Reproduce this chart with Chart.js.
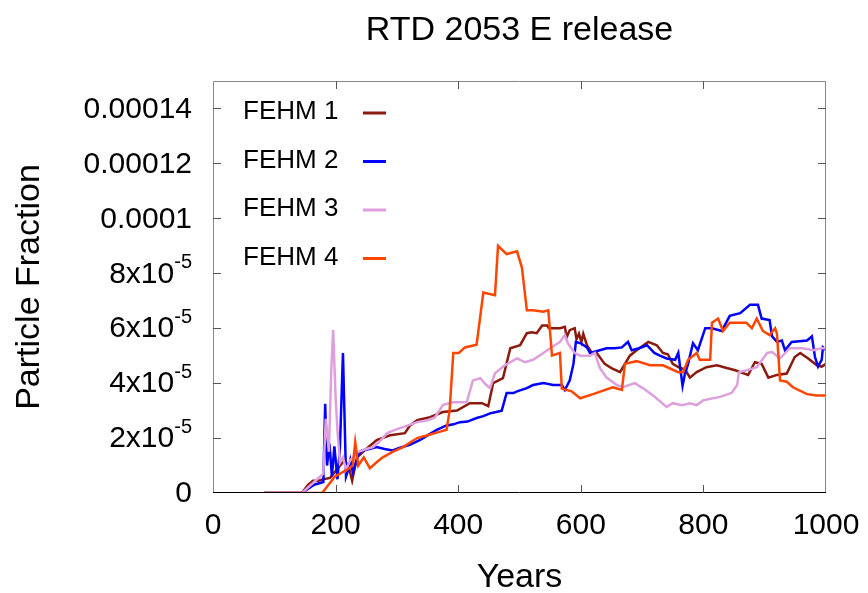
<!DOCTYPE html>
<html>
<head>
<meta charset="utf-8">
<script src="https://cdn.jsdelivr.net/npm/chart.js@4.4.0/dist/chart.umd.min.js"></script>
<style>
  html, body { margin: 0; padding: 0; background: #fff; }
  canvas { display: block; }
</style>
</head>
<body>
<canvas id="rtd" width="868" height="593"></canvas>
<script>
const TITLE = "RTD 2053 E release";
const X_TITLE = "Years";
const Y_TITLE = "Particle Fraction";

const seriesNames = ["FEHM 1", "FEHM 2", "FEHM 3", "FEHM 4"];
const seriesColors = ["#8b1a0e", "#0000ff", "#dda0dd", "#ff4500"];

// tick labels
const xTicks = [0, 200, 400, 600, 800, 1000];
const yTicks = [0, 2e-5, 4e-5, 6e-5, 8e-5, 1e-4, 1.2e-4, 1.4e-4];
const yTickBase = ["0", "2x10", "4x10", "6x10", "8x10", "0.0001", "0.00012", "0.00014"];
const yTickSup = ["", "-5", "-5", "-5", "-5", "", "", ""];

// FEHM 1
const years1 = [83,145,155,163,172,180,191,200,215,222,227,235,250,267,289,313,321,333,354,375,398,419,439,449,457,473,479,485,501,512,520,528,537,545,548,566,574,577,582,590,593,597,601,604,610,618,626,639,650,664,672,680,691,710,724,734,742,750,762,770,778,789,805,822,838,852,860,873,884,895,906,920,936,949,958,971,985,993,1000];
const vals1 = [0,0,0.3e-5,0.45e-5,0.45e-5,0.5e-5,0.55e-5,0.8e-5,1.2e-5,0.9e-5,0.45e-5,1.3e-5,1.6e-5,1.93e-5,2.1e-5,2.18e-5,2.45e-5,2.65e-5,2.76e-5,2.95e-5,3.0e-5,3.27e-5,3.27e-5,3.16e-5,4.0e-5,4.18e-5,4.73e-5,5.27e-5,5.38e-5,5.82e-5,5.85e-5,5.82e-5,6.1e-5,6.1e-5,6.0e-5,6.0e-5,6.05e-5,5.67e-5,5.93e-5,6.0e-5,5.6e-5,5.8e-5,5.5e-5,5.8e-5,5.38e-5,5.1e-5,5.1e-5,4.7e-5,4.55e-5,4.4e-5,4.7e-5,5.0e-5,5.2e-5,5.5e-5,5.38e-5,5.1e-5,5.05e-5,4.7e-5,4.55e-5,4.5e-5,4.2e-5,4.4e-5,4.58e-5,4.65e-5,4.55e-5,4.47e-5,4.4e-5,4.3e-5,4.76e-5,4.7e-5,4.2e-5,4.3e-5,4.35e-5,4.95e-5,5.1e-5,4.9e-5,4.65e-5,4.6e-5,4.7e-5];

// FEHM 2
const years2 = [83,145,165,180,183,186,190,194,198,203,207,212,217,220,224,228,237,243,255,267,280,293,305,321,338,350,365,380,392,403,415,430,441,452,462,471,479,490,496,512,522,539,555,566,569,574,582,588,592,600,610,615,631,642,655,667,677,683,695,708,720,729,740,754,759,766,770,775,783,791,803,814,830,843,860,876,889,895,908,912,920,928,933,944,969,977,982,987,993,995,1000];
const vals2 = [0,0,0.3e-5,0.4e-5,3.25e-5,1.0e-5,1.8e-5,0.6e-5,1.7e-5,0.5e-5,1.6e-5,5.1e-5,0.6e-5,0.8e-5,1.2e-5,0.76e-5,1.38e-5,1.55e-5,1.6e-5,1.67e-5,1.6e-5,1.55e-5,1.65e-5,1.75e-5,1.93e-5,2.1e-5,2.3e-5,2.45e-5,2.5e-5,2.58e-5,2.6e-5,2.73e-5,2.8e-5,2.9e-5,2.95e-5,3.0e-5,3.64e-5,3.64e-5,3.7e-5,3.82e-5,3.93e-5,4.0e-5,3.93e-5,3.93e-5,3.93e-5,3.75e-5,4.1e-5,4.7e-5,5.5e-5,5.45e-5,5.3e-5,5.1e-5,5.2e-5,5.27e-5,5.27e-5,5.3e-5,5.5e-5,5.2e-5,5.27e-5,5.38e-5,5.1e-5,5.0e-5,4.9e-5,4.85e-5,5.1e-5,3.9e-5,4.35e-5,4.7e-5,5.45e-5,5.2e-5,6.0e-5,6.0e-5,5.9e-5,6.45e-5,6.55e-5,6.85e-5,6.85e-5,6.35e-5,6.3e-5,5.7e-5,5.5e-5,5.55e-5,5.2e-5,5.5e-5,5.55e-5,5.7e-5,4.95e-5,4.6e-5,4.85e-5,5.3e-5,5.2e-5];

// FEHM 3
const years3 = [83,145,165,180,184,189,193,196,200,203,207,212,217,224,237,250,261,273,284,297,310,333,350,362,375,390,403,414,424,436,445,452,460,476,485,496,509,522,539,550,566,574,579,590,599,615,623,631,642,659,669,688,701,718,740,750,765,778,789,800,827,846,855,858,871,887,904,912,925,941,962,979,993,1000];
const vals3 = [0,0,0.4e-5,0.7e-5,2.7e-5,1.5e-5,4.5e-5,5.93e-5,3.5e-5,2.3e-5,1.1e-5,1.3e-5,0.85e-5,1.2e-5,1.5e-5,1.6e-5,1.67e-5,1.9e-5,2.18e-5,2.3e-5,2.4e-5,2.58e-5,2.65e-5,2.75e-5,3.2e-5,3.3e-5,3.3e-5,3.3e-5,4.1e-5,4.18e-5,3.95e-5,3.82e-5,4.36e-5,4.65e-5,4.76e-5,4.9e-5,4.76e-5,4.85e-5,5.1e-5,5.27e-5,5.5e-5,5.75e-5,5.45e-5,5.1e-5,5.0e-5,5.0e-5,5.1e-5,4.55e-5,4.2e-5,3.93e-5,3.85e-5,4.0e-5,3.82e-5,3.55e-5,3.13e-5,3.27e-5,3.2e-5,3.27e-5,3.2e-5,3.38e-5,3.5e-5,3.64e-5,3.93e-5,4.4e-5,4.47e-5,4.58e-5,5.1e-5,5.13e-5,4.9e-5,5.27e-5,5.27e-5,5.2e-5,5.27e-5,5.27e-5];

// FEHM 4
const years4 = [83,178,199,218,228,232,237,246,256,266,277,293,310,333,350,365,381,386,392,401,411,430,441,460,465,479,496,504,512,522,539,547,553,566,569,585,599,620,652,667,672,691,713,734,759,767,775,789,794,811,814,824,832,843,870,879,887,897,908,917,920,925,936,946,969,985,1000];
const vals4 = [0,0,0.6e-5,0.84e-5,1.0e-5,1.85e-5,1.0e-5,1.3e-5,0.9e-5,1.1e-5,1.3e-5,1.5e-5,1.67e-5,2.0e-5,2.1e-5,2.2e-5,2.3e-5,3.0e-5,5.1e-5,5.1e-5,5.3e-5,5.4e-5,7.3e-5,7.2e-5,9.0e-5,8.7e-5,8.8e-5,8.2e-5,6.65e-5,6.65e-5,6.6e-5,6.65e-5,5.0e-5,5.1e-5,3.8e-5,3.7e-5,3.45e-5,3.6e-5,3.85e-5,3.75e-5,4.7e-5,4.8e-5,4.65e-5,4.65e-5,4.4e-5,4.4e-5,4.85e-5,5.1e-5,4.85e-5,4.85e-5,6.2e-5,6.35e-5,5.9e-5,6.2e-5,6.2e-5,6.0e-5,6.35e-5,5.9e-5,5.75e-5,6.0e-5,5.8e-5,4.1e-5,4.05e-5,3.85e-5,3.6e-5,3.55e-5,3.55e-5];

const allYears = [years1, years2, years3, years4];
const allVals = [vals1, vals2, vals3, vals4];

const FONT = "'Liberation Sans', Arial, sans-serif";

// frame, inward ticks, labels, legend
const decor = {
  id: "decor",
  afterDatasetsDraw(chart) {
    const { ctx, chartArea: a, scales: { x, y } } = chart;
    const tl = 8;
    ctx.save();
    ctx.lineWidth = 1;
    ctx.strokeStyle = "#888";
    ctx.beginPath();
    ctx.moveTo(a.left + 0.5, a.bottom);
    ctx.lineTo(a.left + 0.5, a.top + 0.5);
    ctx.lineTo(a.right - 0.5, a.top + 0.5);
    ctx.lineTo(a.right - 0.5, a.bottom);
    ctx.stroke();
    ctx.strokeStyle = "#000";
    ctx.beginPath();
    ctx.moveTo(a.left, a.bottom - 0.5);
    ctx.lineTo(a.right, a.bottom - 0.5);
    ctx.stroke();

    ctx.strokeStyle = "#555";
    ctx.beginPath();
    xTicks.forEach(v => {
      const px = Math.round(x.getPixelForValue(v)) + 0.5;
      if (v === 0 || v === 1000) return;
      ctx.moveTo(px, a.bottom); ctx.lineTo(px, a.bottom - tl);
      ctx.moveTo(px, a.top); ctx.lineTo(px, a.top + tl);
    });
    yTicks.forEach(v => {
      const py = Math.round(y.getPixelForValue(v)) + 0.5;
      if (v === 0) return;
      ctx.moveTo(a.left, py); ctx.lineTo(a.left + tl, py);
      ctx.moveTo(a.right, py); ctx.lineTo(a.right - tl, py);
    });
    ctx.stroke();

    ctx.fillStyle = "#000";
    ctx.textBaseline = "middle";

    // x tick labels
    ctx.font = "30px " + FONT;
    ctx.textAlign = "center";
    xTicks.forEach(v => ctx.fillText(String(v), x.getPixelForValue(v), a.bottom + 33));

    // y tick labels
    const rightEdge = a.left - 21;
    yTicks.forEach((v, i) => {
      const py = y.getPixelForValue(v);
      let supW = 0;
      if (yTickSup[i]) {
        ctx.font = "20px " + FONT;
        supW = ctx.measureText(yTickSup[i]).width;
        ctx.textAlign = "left";
        ctx.fillText(yTickSup[i], rightEdge - supW, py - 11);
      }
      ctx.font = "30px " + FONT;
      ctx.textAlign = "right";
      ctx.fillText(yTickBase[i], rightEdge - supW, py + 1);
    });

    // titles
    ctx.textAlign = "center";
    ctx.font = "34px " + FONT;
    ctx.fillText(TITLE, (a.left + a.right) / 2, 31);
    ctx.fillText(X_TITLE, (a.left + a.right) / 2, 578);
    ctx.save();
    ctx.translate(30, 287);
    ctx.rotate(-Math.PI / 2);
    ctx.fillText(Y_TITLE, 0, 0);
    ctx.restore();

    // legend
    ctx.font = "26px " + FONT;
    ctx.textAlign = "left";
    chart.data.datasets.forEach((ds, i) => {
      const ry = a.top + 31 + i * 48.5;
      ctx.fillStyle = "#000";
      ctx.fillText(ds.label, a.left + 30, ry);
      ctx.strokeStyle = ds.borderColor;
      ctx.lineWidth = 3;
      ctx.beginPath();
      ctx.moveTo(a.left + 150, ry + 1);
      ctx.lineTo(a.left + 173, ry + 1);
      ctx.stroke();
    });
    ctx.restore();
  }
};

const datasets = seriesNames.map((name, i) => ({
  label: name,
  data: allYears[i].map((yr, j) => ({ x: yr, y: allVals[i][j] })),
  borderColor: seriesColors[i],
  borderWidth: 2.5,
  pointRadius: 0,
  tension: 0,
  fill: false,
  order: 3 - i,
}));

new Chart(document.getElementById("rtd"), {
  type: "line",
  data: { datasets },
  options: {
    responsive: false,
    animation: false,
    devicePixelRatio: 1,
    layout: { padding: { left: 213, right: 42, top: 81, bottom: 100 } },
    plugins: { legend: { display: false }, tooltip: { enabled: false }, title: { display: false } },
    scales: {
      x: { type: "linear", min: 0, max: 1000, display: false },
      y: { min: 0, max: 1.5e-4, display: false },
    },
  },
  plugins: [decor],
});
</script>
</body>
</html>
